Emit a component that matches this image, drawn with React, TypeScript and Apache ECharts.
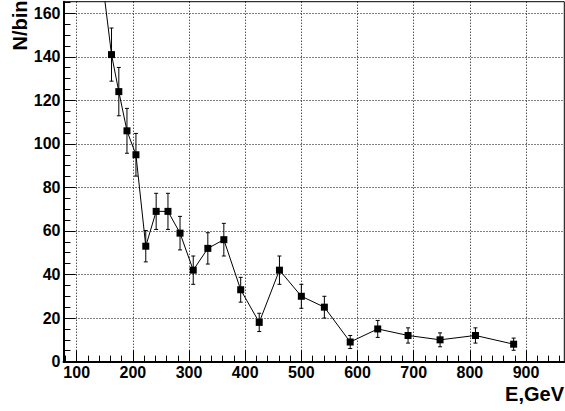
import React, { useEffect, useRef } from "react";
import * as echarts from "echarts";

// Measured data (bin energy in GeV, counts per bin, statistical error)
const energies = [140, 162, 175, 189.5, 205.5, 223, 241.5, 262.5, 284, 307.5, 333.5, 362, 392, 425, 461, 500, 541, 587, 636, 690, 747, 810, 878];
const counts = [187, 141, 124, 106, 95, 53, 69, 69, 59, 42, 52, 56, 33, 18, 42, 30, 25, 9, 15, 12, 10, 12, 8];
const errors = [13.7, 12.2, 11.1, 10.3, 9.8, 7.2, 8.3, 8.3, 7.7, 6.5, 7.2, 7.5, 5.7, 4.2, 6.5, 5.5, 5.0, 3.0, 3.9, 3.5, 3.2, 3.5, 2.8];

const xMajorTicks = [100, 200, 300, 400, 500, 600, 700, 800, 900];
const xMinorTicks = [80, 120, 140, 160, 180, 220, 240, 260, 280, 320, 340, 360, 380, 420, 440, 460, 480, 520, 540, 560, 580, 620, 640, 660, 680, 720, 740, 760, 780, 820, 840, 860, 880, 920, 940, 960];
const yMajorTicks = [0, 20, 40, 60, 80, 100, 120, 140, 160];
const yMinorTicks = [5, 10, 15, 25, 30, 35, 45, 50, 55, 65, 70, 75, 85, 90, 95, 105, 110, 115, 125, 130, 135, 145, 150, 155, 165];

const xTitle = "E,GeV";
const yTitle = "N/bin";

const X_MIN = 76.5;
const X_MAX = 968.2;
const Y_MIN = 0;
const Y_MAX = 165.3;

const FONT = "'Liberation Sans', Arial, Helvetica, sans-serif";

export default function App() {
  const ref = useRef<HTMLDivElement>(null);

  useEffect(() => {
    if (!ref.current) return;
    const chart = echarts.init(ref.current, undefined, { renderer: "svg" });

    const lineData = energies.map((e, i) => [e, counts[i]]);
    const errData = energies.map((e, i) => [e, counts[i], errors[i]]);

    const labelStyle = {
      fontSize: 16,
      fontWeight: "bold" as const,
      color: "#000",
      fontFamily: FONT,
    };

    const gridLine = { show: true, lineStyle: { color: "#000", width: 1, type: [1, 2] } };

    const option: any = {
      animation: false,
      backgroundColor: "#fff",
      grid: {
        left: 63.5,
        top: 1.7,
        right: 0.7,
        bottom: 49.4,
        show: true,
        borderColor: "#000",
        borderWidth: 1,
        backgroundColor: "transparent",
      },
      xAxis: [
        {
          type: "value",
          min: X_MIN,
          max: X_MAX,
          position: "bottom",
          axisLine: { show: true, onZero: false, lineStyle: { color: "#000", width: 2 } },
          axisTick: { show: true, inside: true, length: 11, customValues: xMajorTicks, lineStyle: { color: "#000", width: 1 } },
          axisLabel: { show: true, margin: 3, customValues: xMajorTicks, ...labelStyle },
          splitLine: gridLine,
        },
        {
          type: "value",
          min: X_MIN,
          max: X_MAX,
          position: "bottom",
          offset: 0,
          axisLine: { show: false, onZero: false },
          axisTick: { show: true, inside: true, length: 6, customValues: xMinorTicks, lineStyle: { color: "#000", width: 1 } },
          axisLabel: { show: false },
          splitLine: { show: false },
        },
      ],
      yAxis: [
        {
          type: "value",
          min: Y_MIN,
          max: Y_MAX,
          position: "left",
          axisLine: { show: true, onZero: false, lineStyle: { color: "#000", width: 2 } },
          axisTick: { show: true, inside: true, length: 12, customValues: yMajorTicks, lineStyle: { color: "#000", width: 1 } },
          axisLabel: { show: true, margin: 3, customValues: yMajorTicks, ...labelStyle },
          splitLine: gridLine,
        },
        {
          type: "value",
          min: Y_MIN,
          max: Y_MAX,
          position: "left",
          offset: 0,
          axisLine: { show: false, onZero: false },
          axisTick: { show: true, inside: true, length: 7, customValues: yMinorTicks, lineStyle: { color: "#000", width: 1 } },
          axisLabel: { show: false },
          splitLine: { show: false },
        },
      ],
      series: [
        {
          type: "custom",
          xAxisIndex: 0,
          yAxisIndex: 0,
          clip: true,
          z: 3,
          data: errData,
          renderItem: (params: any, api: any) => {
            const x = api.value(0);
            const y = api.value(1);
            const e = api.value(2);
            const top = api.coord([x, y + e]);
            const bot = api.coord([x, y - e]);
            const cap = 2;
            const style = { stroke: "#000", lineWidth: 1, fill: "none" };
            return {
              type: "group",
              children: [
                { type: "line", shape: { x1: top[0], y1: top[1], x2: bot[0], y2: bot[1] }, style },
                { type: "line", shape: { x1: top[0] - cap, y1: top[1], x2: top[0] + cap, y2: top[1] }, style },
                { type: "line", shape: { x1: bot[0] - cap, y1: bot[1], x2: bot[0] + cap, y2: bot[1] }, style },
              ],
            };
          },
        },
        {
          type: "line",
          xAxisIndex: 0,
          yAxisIndex: 0,
          data: lineData,
          clip: true,
          z: 4,
          symbol: "rect",
          symbolSize: 7,
          showAllSymbol: true,
          itemStyle: { color: "#000" },
          lineStyle: { color: "#000", width: 1 },
        },
      ],
      graphic: [
        {
          type: "text",
          x: 20,
          y: 0.5,
          rotation: Math.PI / 2,
          style: {
            text: yTitle,
            fontSize: 20,
            fontWeight: "bold",
            fontFamily: FONT,
            fill: "#000",
            align: "right",
            verticalAlign: "middle",
          },
        },
        {
          type: "text",
          x: 564,
          y: 394,
          style: {
            text: xTitle,
            fontSize: 20,
            fontWeight: "bold",
            fontFamily: FONT,
            fill: "#000",
            align: "right",
            verticalAlign: "middle",
          },
        },
      ],
    };

    chart.setOption(option);
    return () => chart.dispose();
  }, []);

  return (
    <div
      ref={ref}
      style={{ position: "fixed", left: 0, top: 0, width: 565, height: 411, background: "#fff" }}
    />
  );
}
